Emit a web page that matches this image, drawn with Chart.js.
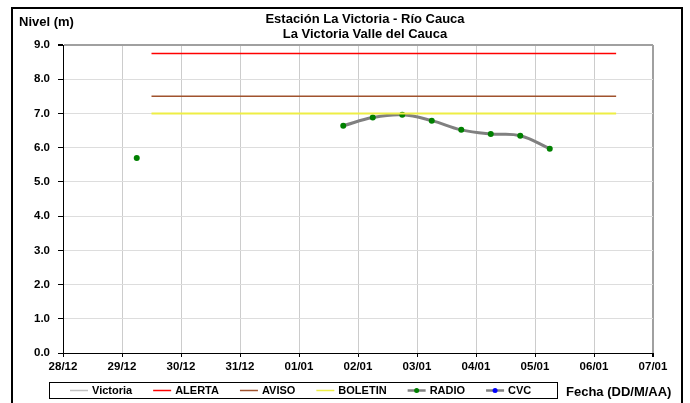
<!DOCTYPE html>
<html>
<head>
<meta charset="utf-8">
<script src="https://cdn.jsdelivr.net/npm/chart.js@4"></script>
<style>
  body { margin: 0; background: #fff; }
  #contenedor { width: 690px; height: 403px; }
</style>
</head>
<body>
<div id="contenedor"><canvas id="myChart" width="690" height="403"></canvas></div>
<script>
// Datos
let etiquetasFecha = ['28/12', '29/12', '30/12', '31/12', '01/01', '02/01', '03/01', '04/01', '05/01', '06/01', '07/01'];
let nivelTicks = [0, 1, 2, 3, 4, 5, 6, 7, 8, 9];
let radioFechas = ['29/12 06:00', '31/12 00:00', '01/01 18:00', '02/01 06:00', '02/01 18:00', '03/01 06:00', '03/01 18:00', '04/01 06:00', '04/01 18:00', '05/01 06:00'];
let radioNivel = [5.70, null, 6.64, 6.88, 6.96, 6.79, 6.52, 6.40, 6.35, 5.97];
let umbralFechas = ['29/12 12:00', '06/01 09:00'];
let nivelAlerta = 8.75;
let nivelAviso = 7.5;
let nivelBoletin = 7.0;

const fuente = '"Liberation Sans", Arial, sans-serif';

// convierte 'DD/MM HH:MM' a dias desde el primer rotulo
function aDias(texto) {
    let partes = texto.split(' ');
    let dia = etiquetasFecha.indexOf(partes[0]);
    let hm = partes[1].split(':');
    return dia + (parseInt(hm[0]) + parseInt(hm[1]) / 60) / 24;
}

function lineaUmbral(valor) {
    return umbralFechas.map((f) => ({ x: aDias(f), y: valor }));
}

let puntosRadio = radioFechas.map((f, i) => ({ x: aDias(f), y: radioNivel[i] }));

// Leyenda dibujada a mano (caja con borde como en el original)
let itemsLeyenda = [
    { texto: 'Victoria', linea: '#C0C0C0', punto: null },
    { texto: 'ALERTA', linea: '#FF0000', punto: null },
    { texto: 'AVISO', linea: '#A0522D', punto: null },
    { texto: 'BOLETIN', linea: '#EEEE44', punto: null },
    { texto: 'RADIO', linea: '#808080', punto: '#008000' },
    { texto: 'CVC', linea: '#808080', punto: '#0000FF' }
];

const decorado = {
    id: 'decorado',
    afterDraw(chart) {
        const ctx = chart.ctx;
        ctx.save();
        ctx.fillStyle = '#000';
        ctx.textBaseline = 'middle';

        // titulos
        ctx.font = 'bold 13px ' + fuente;
        ctx.textAlign = 'center';
        ctx.fillText('Estación La Victoria - Río Cauca', 365, 19);
        ctx.fillText('La Victoria Valle del Cauca', 365, 34);
        ctx.textAlign = 'left';
        ctx.fillText('Nivel (m)', 19, 22);
        ctx.fillText('Fecha (DD/M/AA)', 566, 392);

        // caja de leyenda
        ctx.strokeStyle = '#000';
        ctx.lineWidth = 1;
        ctx.strokeRect(49.5, 382.5, 508, 16);
        ctx.font = 'bold 11px ' + fuente;
        let x = 70;
        for (let item of itemsLeyenda) {
            ctx.strokeStyle = item.linea;
            ctx.lineWidth = item.punto ? 2.5 : 1.5;
            ctx.beginPath();
            ctx.moveTo(x, 390.5);
            ctx.lineTo(x + 18, 390.5);
            ctx.stroke();
            if (item.punto) {
                ctx.fillStyle = item.punto;
                ctx.beginPath();
                ctx.arc(x + 9, 390.5, 2.5, 0, Math.PI * 2);
                ctx.fill();
            }
            ctx.fillStyle = '#000';
            ctx.fillText(item.texto, x + 22, 391);
            x += 22 + ctx.measureText(item.texto).width + 21;
        }

        // borde exterior
        ctx.strokeStyle = '#000';
        ctx.lineWidth = 2;
        ctx.strokeRect(12, 8, 670, 400);
        ctx.restore();
    }
};

const graficoHtml = document.getElementById('myChart').getContext('2d');
const graficoNuevo = new Chart(graficoHtml, {
    type: 'line',
    data: {
        datasets: [
            { label: 'Victoria', data: [], borderColor: '#C0C0C0', pointRadius: 0 },
            { label: 'ALERTA', data: lineaUmbral(nivelAlerta), borderColor: '#FF0000', borderWidth: 1.5, pointRadius: 0 },
            { label: 'AVISO', data: lineaUmbral(nivelAviso), borderColor: '#A0522D', borderWidth: 1.5, pointRadius: 0 },
            { label: 'BOLETIN', data: lineaUmbral(nivelBoletin), borderColor: '#EEEE44', borderWidth: 2, pointRadius: 0 },
            {
                label: 'RADIO',
                data: puntosRadio,
                borderColor: '#808080',
                borderWidth: 3,
                tension: 0.4,
                spanGaps: false,
                pointRadius: 3,
                pointBorderWidth: 0,
                pointBackgroundColor: '#008000',
                pointBorderColor: '#008000'
            },
            { label: 'CVC', data: [], borderColor: '#808080', pointBackgroundColor: '#0000FF', pointRadius: 0 }
        ]
    },
    options: {
        responsive: false,
        animation: false,
        layout: { padding: { left: 10, right: 37, top: 45, bottom: 25 } },
        plugins: {
            legend: { display: false },
            title: { display: false },
            tooltip: { enabled: false }
        },
        scales: {
            x: {
                type: 'linear',
                min: 0,
                max: etiquetasFecha.length - 1,
                afterFit(scale) { scale.height = 25; },
                ticks: {
                    stepSize: 1,
                    autoSkip: false,
                    maxRotation: 0,
                    padding: 3,
                    color: '#000',
                    font: { family: fuente, size: 11.5, weight: 'bold' },
                    callback: (v) => etiquetasFecha[v]
                },
                grid: {
                    color: (c) => c.tick && c.tick.value === etiquetasFecha.length - 1 ? '#A0A0A0' : '#CCCCCC',
                    lineWidth: (c) => c.tick && c.tick.value === etiquetasFecha.length - 1 ? 2 : 1,
                    tickColor: '#000',
                    tickLength: 4
                },
                border: { color: '#000', width: 1 }
            },
            y: {
                min: 0,
                max: nivelTicks[nivelTicks.length - 1],
                afterFit(scale) { scale.width = 53; },
                ticks: {
                    stepSize: 1,
                    padding: 8,
                    color: '#000',
                    font: { family: fuente, size: 11.5, weight: 'bold' },
                    callback: (v) => v.toFixed(1)
                },
                grid: {
                    color: (c) => c.tick && c.tick.value === 9 ? '#A0A0A0' : '#DDDDDD',
                    lineWidth: (c) => c.tick && c.tick.value === 9 ? 2 : 1,
                    tickColor: '#000',
                    tickLength: 5
                },
                border: { color: '#000', width: 1 }
            }
        }
    },
    plugins: [decorado]
});
</script>
</body>
</html>
